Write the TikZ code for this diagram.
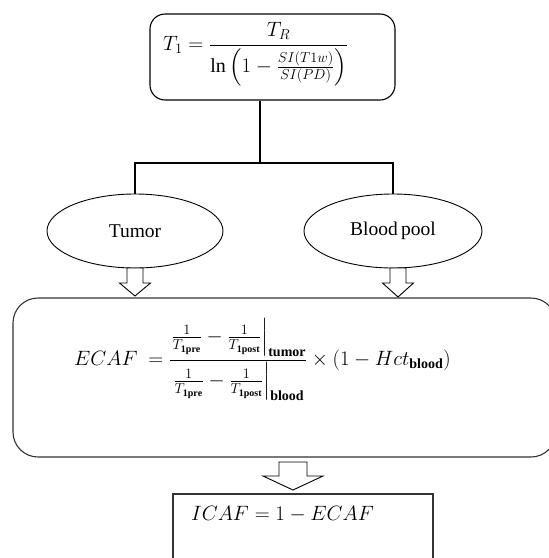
\documentclass[tikz,border=0pt]{standalone}
\usepackage{amsmath}
\usepackage{fontspec}
\setmainfont{Liberation Serif}
\usetikzlibrary{shapes.geometric,calc}
\newcommand\blockarr[6]{%
  \draw[blockarrowstyle] (#1-#5,#2) -- (#1-#5,#3) -- (#1-#6,#3) -- (#1,#4) -- (#1+#6,#3) -- (#1+#5,#3) -- (#1+#5,#2) -- cycle;}
\tikzset{
  boxline/.style={draw=black, line width=1.1pt},
  oval/.style={ellipse, draw=black, line width=0.9pt, minimum width=176pt, minimum height=74pt, font=\fontsize{19.5}{22}\selectfont},
  blockarrowstyle/.style={draw=black, line width=0.9pt, fill=white},
  conn/.style={draw=black, line width=1.3pt},
  mathtext/.style={inner sep=0pt, font=\fontsize{20}{24}\selectfont},
}
\begin{document}
\begin{tikzpicture}[x=1pt,y=-1pt]
\useasboundingbox (0,0) rectangle (549,558);
\clip (0,0) rectangle (549,558);
% top box
\node[boxline, rounded corners=15pt, minimum width=245pt, minimum height=86pt, inner sep=0pt] (topbox) at (272.5,57) {};
\node[mathtext, anchor=west] (topf) at (163,54) {$T_1=\dfrac{T_R}{\ln\left(1-\frac{SI(T1w)}{SI(PD)}\right)}$};
% ellipses
\node[oval] (tumor) at (135,231) {Tumor};
\node[oval, minimum width=178pt] (blood) at (393,231) {Blood\,pool};
% connectors
\coordinate (j) at (260,163);
\draw[conn] (topbox.south -| j) -- (j);
\draw[conn] (tumor.north) |- (blood.north |- j) -- (blood.north);
% big box
\node[draw=black!80, line width=1.1pt, rounded corners=25pt, minimum width=543pt, minimum height=159pt, inner sep=0pt] (bigbox) at (284.5,377.5) {};
\node[mathtext, anchor=west] (ecaf) at (74,360) {$ECAF\ =\dfrac{\left.\frac{1}{T_{\mathbf{1pre}}}-\frac{1}{T_{\mathbf{1post}}}\right|_{\mathbf{tumor}}}{\left.\frac{1}{T_{\mathbf{1pre}}}-\frac{1}{T_{\mathbf{1post}}}\right|_{\mathbf{blood}}}\times\left(1-Hct_{\mathbf{blood}}\right)$};
% ICAF box
\node[draw=black!80, line width=1.1pt, minimum width=260pt, minimum height=66pt, inner sep=0pt] (icafbox) at (303,527) {};
\node[mathtext, anchor=west, font=\fontsize{21}{24}\selectfont] (icaf) at (191,514) {$ICAF=1-ECAF$};
% block arrows
\blockarr{135}{268}{283}{296}{8}{15.5}
\blockarr{398}{268}{283}{297}{8}{15.5}
\blockarr{293}{462}{476}{490}{14}{30}
\end{tikzpicture}
\end{document}
